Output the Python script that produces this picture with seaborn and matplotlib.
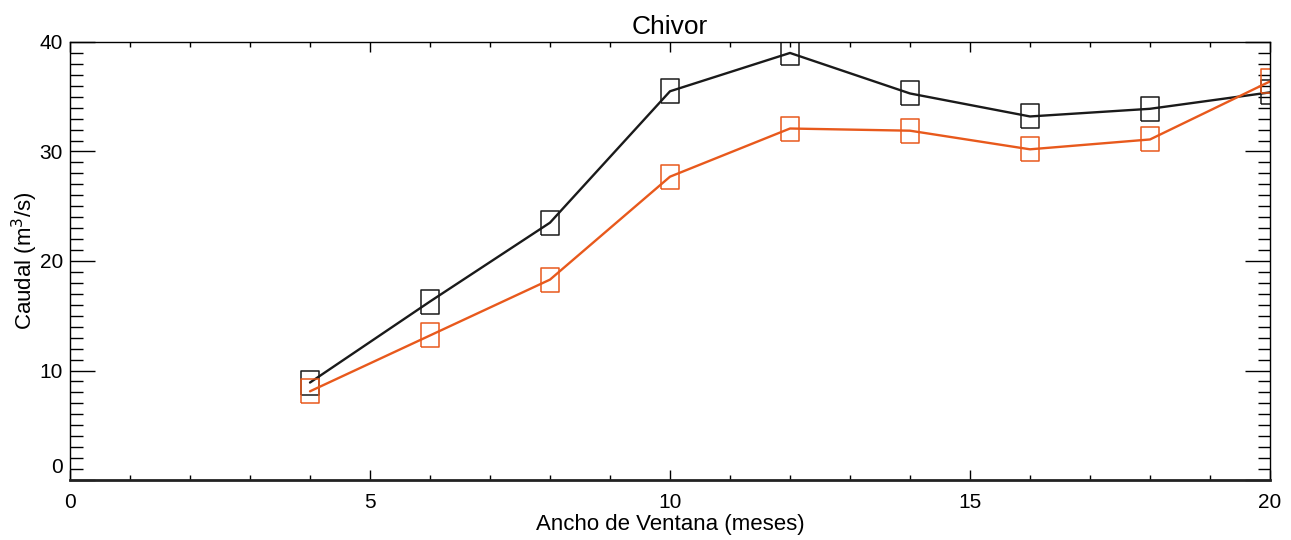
import matplotlib
matplotlib.use("Agg")
import matplotlib.pyplot as plt
from matplotlib.ticker import MultipleLocator
from matplotlib.transforms import blended_transform_factory, ScaledTranslation
import seaborn as sns
import pandas as pd

# Window widths (months) and mean discharge for the two series
ventana = [4, 6, 8, 10, 12, 14, 16, 18, 20]
caudal_negro = [8.9, 16.3, 23.5, 35.5, 39.0, 35.3, 33.2, 33.9, 35.4]
caudal_naranja = [8.1, 13.2, 18.3, 27.7, 32.1, 31.9, 30.2, 31.1, 36.4]

x_ticks = [0, 5, 10, 15, 20]
y_ticks = [0, 10, 20, 30, 40]

sns.set_theme(style="ticks")
plt.rcParams["font.family"] = ["Liberation Sans Narrow", "Liberation Sans", "DejaVu Sans"]
plt.rcParams["text.color"] = "black"
plt.rcParams["axes.labelcolor"] = "black"

fig = plt.figure(figsize=(12.91, 5.40), dpi=100)
ax = fig.add_axes([70 / 1291, 60 / 540, 1200 / 1291, 438 / 540])

# Tall open rectangle used as the point marker
rect = [(-0.75, -1), (0.75, -1), (0.75, 1), (-0.75, 1), (-0.75, -1)]

series = [(caudal_negro, "#1a1a1a"), (caudal_naranja, "#e8591c")]
for valores, color in series:
    df = pd.DataFrame({"ventana": ventana, "caudal": valores})
    sns.lineplot(data=df, x="ventana", y="caudal", ax=ax, color=color,
                 lw=1.7, marker=rect, ms=17, mfc="none", mec=color, mew=1.1)

ax.set_xlim(0, 20)
ax.set_ylim(0, 40)
ax.set_xticks(x_ticks)
ax.set_yticks(y_ticks)
ax.set_yticklabels([""] + [str(v) for v in y_ticks[1:]])
ax.xaxis.set_minor_locator(MultipleLocator(1))
ax.yaxis.set_minor_locator(MultipleLocator(1))

ax.tick_params(axis="both", which="both", direction="in", colors="black",
               top=True, right=True, labelsize=15, width=1.0)
ax.tick_params(axis="x", which="major", length=7, pad=9)
ax.tick_params(axis="x", which="minor", length=3.5)
ax.tick_params(axis="y", which="major", length=18, pad=5)
ax.tick_params(axis="y", which="minor", length=9)

# "0" label sits slightly above the bottom axis line
tr = blended_transform_factory(ax.transAxes, ax.transData) + \
    ScaledTranslation(-5 / 72, 9 / 72, fig.dpi_scale_trans)
ax.text(0, 0, "0", transform=tr, ha="right", va="center", fontsize=15)

for side in ["left", "right", "top"]:
    ax.spines[side].set_linewidth(1.0)
    ax.spines[side].set_color("black")
ax.spines["bottom"].set_linewidth(2.0)
ax.spines["bottom"].set_color("#222222")

ax.set_xlabel("Ancho de Ventana (meses)", fontsize=16, labelpad=2)
ax.set_ylabel("Caudal (m$^3$/s)", fontsize=16, labelpad=0)
ax.set_title("Chivor", fontsize=19, pad=6)
ax.grid(False)

fig.savefig("out.png", dpi=100)
